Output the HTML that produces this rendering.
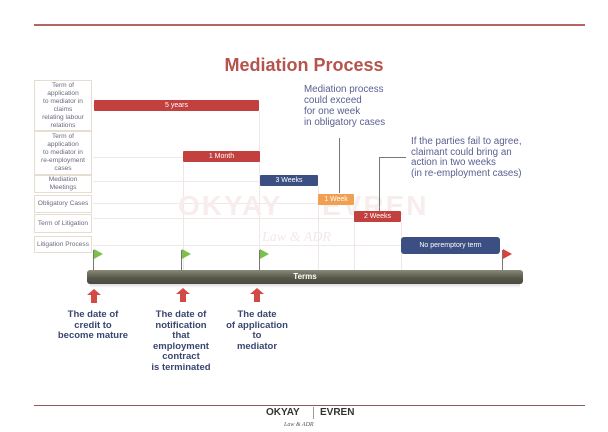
<!DOCTYPE html>
<html><head><meta charset="utf-8"><style>
body{margin:0;width:608px;height:432px;background:#fff;position:relative;overflow:hidden;font-family:"Liberation Sans",sans-serif;}
.a{position:absolute}
.lb{position:absolute;left:34px;width:58px;border:1px solid #e4ddd0;background:#fff;color:#6a6a80;font-size:6.6px;line-height:8px;text-align:center;display:flex;align-items:center;justify-content:center;box-sizing:border-box;white-space:nowrap}
.bar{position:absolute;color:#fff;font-size:7px;display:flex;align-items:center;justify-content:center;border-radius:1px}
.hl{position:absolute;height:1px;background:#f0e8e8}
.vl{position:absolute;width:1px;background:#efe6e6}
.flag{position:absolute;width:0;height:0;border-top:5px solid transparent;border-bottom:5px solid transparent;border-left:9px solid #7cc04a}
.pole{position:absolute;width:1px;height:20px;background:#777}
.up{position:absolute;width:14px;height:14px}
.cap{position:absolute;width:90px;text-align:center;color:#3a4670;font-weight:bold;font-size:9.5px;line-height:10.5px}
.call{position:absolute;color:#5a6090;font-size:9.8px;line-height:11px}
</style></head><body>
<div class="a" style="left:34px;top:24px;width:551px;height:2px;background:#b86560"></div>
<div class="a" style="left:0;width:608px;top:55px;text-align:center;font-size:18px;font-weight:bold;color:#b5534d">Mediation Process</div>

<div class="hl" style="left:93px;top:105px;width:166px"></div>
<div class="hl" style="left:93px;top:157px;width:90px"></div>
<div class="hl" style="left:93px;top:181px;width:167px"></div>
<div class="hl" style="left:93px;top:203px;width:225px"></div>
<div class="hl" style="left:93px;top:218px;width:261px"></div>
<div class="hl" style="left:93px;top:245px;width:308px"></div>
<div class="vl" style="left:183px;top:162px;height:108px"></div>
<div class="vl" style="left:259px;top:111px;height:159px"></div>
<div class="vl" style="left:318px;top:186px;height:84px"></div>
<div class="vl" style="left:354px;top:205px;height:65px"></div>
<div class="vl" style="left:401px;top:222px;height:48px"></div>

<div class="a" style="left:178px;top:190px;font-size:28px;font-weight:bold;color:#f8eded;letter-spacing:2px">OKYAY</div>
<div class="a" style="left:322px;top:190px;font-size:28px;font-weight:bold;color:#f8eded;letter-spacing:2px">EVREN</div>
<div class="a" style="left:262px;top:230px;font-size:14px;font-style:italic;font-family:'Liberation Serif',serif;color:#f3e8e8">Law &amp; ADR</div>

<div class="lb" style="top:80px;height:51px">Term of<br>application<br>to mediator in<br>claims<br>relating labour<br>relations</div>
<div class="lb" style="top:131px;height:44px">Term of<br>application<br>to mediator in<br>re-employment<br>cases</div>
<div class="lb" style="top:175px;height:18px">Mediation<br>Meetings</div>
<div class="lb" style="top:195px;height:18px">Obligatory Cases</div>
<div class="lb" style="top:214px;height:19px">Term of Litigation</div>
<div class="lb" style="top:236px;height:17px">Litigation Process</div>

<div class="bar" style="left:94px;top:100px;width:165px;height:11px;background:#c2403e">5 years</div>
<div class="bar" style="left:183px;top:151px;width:77px;height:11px;background:#c2403e">1 Month</div>
<div class="bar" style="left:260px;top:175px;width:58px;height:11px;background:#3b4f82">3 Weeks</div>
<div class="bar" style="left:318px;top:194px;width:36px;height:11px;background:#f0a050">1 Week</div>
<div class="bar" style="left:354px;top:211px;width:47px;height:11px;background:#c2403e">2 Weeks</div>
<div class="bar" style="left:401px;top:237px;width:99px;height:17px;background:#3b4f82;border-radius:3px">No peremptory term</div>

<div class="a" style="left:339px;top:138px;width:1px;height:55px;background:#777"></div>
<div class="a" style="left:379px;top:157px;width:27px;height:1px;background:#777"></div>
<div class="a" style="left:379px;top:157px;width:1px;height:55px;background:#777"></div>
<div class="call" style="left:304px;top:84px">Mediation process<br>could exceed<br>for one week<br>in obligatory cases</div>
<div class="call" style="left:411px;top:137px;line-height:10.5px">If the parties fail to agree,<br>claimant could bring an<br>action in two weeks<br>(in re-employment cases)</div>

<div class="pole" style="left:93px;top:250px"></div><div class="flag" style="left:94px;top:249px"></div>
<div class="pole" style="left:181px;top:250px"></div><div class="flag" style="left:182px;top:249px"></div>
<div class="pole" style="left:259px;top:250px"></div><div class="flag" style="left:260px;top:249px"></div>
<div class="pole" style="left:502px;top:250px"></div><div class="flag" style="left:503px;top:249px;border-left-color:#d9403e"></div>

<div class="a" style="left:87px;top:270px;width:436px;height:14px;border-radius:3px;background:linear-gradient(#8a8a78,#55554a 60%,#4a4a40);color:#fff;font-size:8px;font-weight:bold;text-align:center;line-height:14px">Terms</div>
<div class="a" style="left:90px;top:284px;width:430px;height:4px;background:linear-gradient(#ddd,#fff)"></div>

<svg class="up" style="left:87px;top:289px" viewBox="0 0 14 14"><polygon points="7,0 14,6 10,6 10,14 4,14 4,6 0,6" fill="#d24a45"/></svg>
<svg class="up" style="left:176px;top:288px" viewBox="0 0 14 14"><polygon points="7,0 14,6 10,6 10,14 4,14 4,6 0,6" fill="#d24a45"/></svg>
<svg class="up" style="left:250px;top:288px" viewBox="0 0 14 14"><polygon points="7,0 14,6 10,6 10,14 4,14 4,6 0,6" fill="#d24a45"/></svg>

<div class="cap" style="left:48px;top:310px">The date of<br>credit to<br>become mature</div>
<div class="cap" style="left:136px;top:310px">The date of<br>notification<br>that<br>employment<br>contract<br>is terminated</div>
<div class="cap" style="left:212px;top:310px">The date<br>of application<br>to<br>mediator</div>

<div class="a" style="left:34px;top:405px;width:551px;height:1px;background:#8a5a5a"></div>
<div class="a" style="left:266px;top:407px;font-size:10px;font-weight:bold;color:#333">OKYAY</div>
<div class="a" style="left:313px;top:407px;width:1px;height:12px;background:#999"></div>
<div class="a" style="left:320px;top:407px;font-size:10px;font-weight:bold;color:#333">EVREN</div>
<div class="a" style="left:284px;top:422px;font-size:6px;font-style:italic;font-family:'Liberation Serif',serif;color:#555">Law &amp; ADR</div>
</body></html>
